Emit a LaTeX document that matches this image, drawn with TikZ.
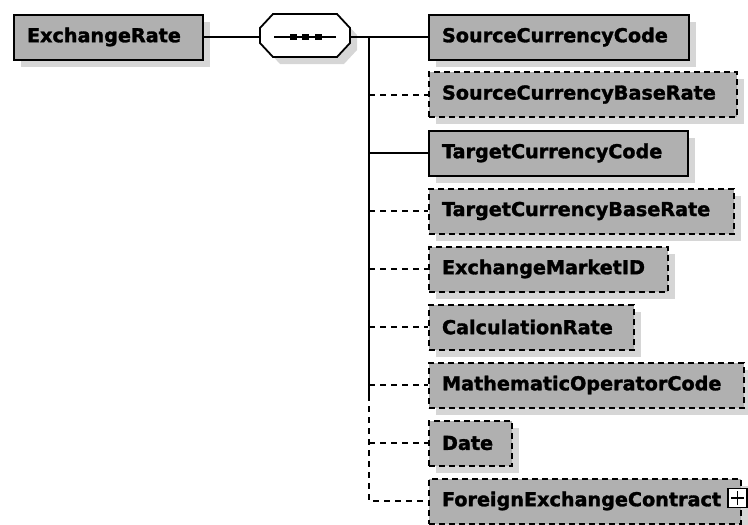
\documentclass[tikz,border=0pt]{standalone}
\usepackage{fontspec}
\setmainfont{DejaVu Sans}
\newfontfamily\heavyfont[FakeBold=1.6]{DejaVu Sans Bold}
\usetikzlibrary{shadows}
\definecolor{boxgray}{RGB}{176,176,176}
\definecolor{shadowgray}{RGB}{214,214,214}
\begin{document}
\begin{tikzpicture}[x=1pt,y=-1pt,
  base/.style={fill=boxgray, line width=2pt, draw=black, inner xsep=13pt, inner ysep=0pt,
    minimum height=45pt, align=left, anchor=west,
    font=\heavyfont\fontsize{19.2}{20}\selectfont,
    drop shadow={shadow xshift=7pt, shadow yshift=-7pt, fill=shadowgray, opacity=1}},
  reqbox/.style={base},
  optbox/.style={base, dash pattern=on 6pt off 4pt},
  reqline/.style={line width=1.8pt},
  optline/.style={line width=2pt, dash pattern=on 6pt off 5pt}]
\useasboundingbox (0,0) rectangle (748,525);

% root element
\node[reqbox, text width=163pt] (er) at (13,37) {ExchangeRate};

% sequence compositor
\fill[shadowgray] (280,21) -- (344,21) -- (357,35) -- (357,50) -- (344,64) -- (280,64) -- (267,50) -- (267,35) -- cycle;
\draw[line width=1.8pt, fill=white] (273,14) -- (337,14) -- (350,28) -- (350,43) -- (337,57) -- (273,57) -- (260,43) -- (260,28) -- cycle;
\coordinate (seqL) at (260,37);
\coordinate (seqR) at (350,37);
\draw[line width=1.4pt] (274,37) -- (336,37);
\foreach \dx in {293,305,318} \fill (\dx-3.5,34) rectangle (\dx+3.5,40);

% children
\node[reqbox, text width=234pt] (scc)  at (428,37)   {SourceCurrencyCode};
\node[optbox, text width=282pt] (scbr) at (428,94.5) {SourceCurrencyBaseRate};
\node[reqbox, text width=233pt] (tcc)  at (428,153)  {TargetCurrencyCode};
\node[optbox, text width=279pt] (tcbr) at (428,211)  {TargetCurrencyBaseRate};
\node[optbox, text width=213pt] (emid) at (428,269)  {ExchangeMarketID};
\node[optbox, text width=179pt] (cr)   at (428,327)  {CalculationRate};
\node[optbox, text width=289pt] (moc)  at (428,385)  {MathematicOperatorCode};
\node[optbox, text width=57pt]  (dt)   at (428,443)  {Date};
\node[optbox, text width=286pt] (fec)  at (428,501)  {ForeignExchangeContract};

% expand box
\node[draw, fill=white, line width=1.4pt, minimum size=19pt, inner sep=0pt] (plus) at (737.5,498) {};
\draw[line width=1.4pt] ([xshift=-6.5pt]plus.center) -- ([xshift=6.5pt]plus.center);
\draw[line width=1.4pt] ([yshift=-7pt]plus.center) -- ([yshift=7pt]plus.center);

% connectors
\coordinate (bus) at (369,37);
\coordinate (busmid) at (369,395);
\draw[reqline] (er.east) -- (seqL);
\draw[reqline] (seqR) -- (scc.west);
\draw[reqline] (bus) -- (busmid);
\draw[optline] (busmid) -- (fec.west -| bus) -- (fec.west);
\draw[reqline] (tcc.west -| bus) -- (tcc.west);
\foreach \n in {scbr,tcbr,emid,cr,moc,dt}
  \draw[optline] (\n.west -| bus) -- (\n.west);
\end{tikzpicture}
\end{document}
